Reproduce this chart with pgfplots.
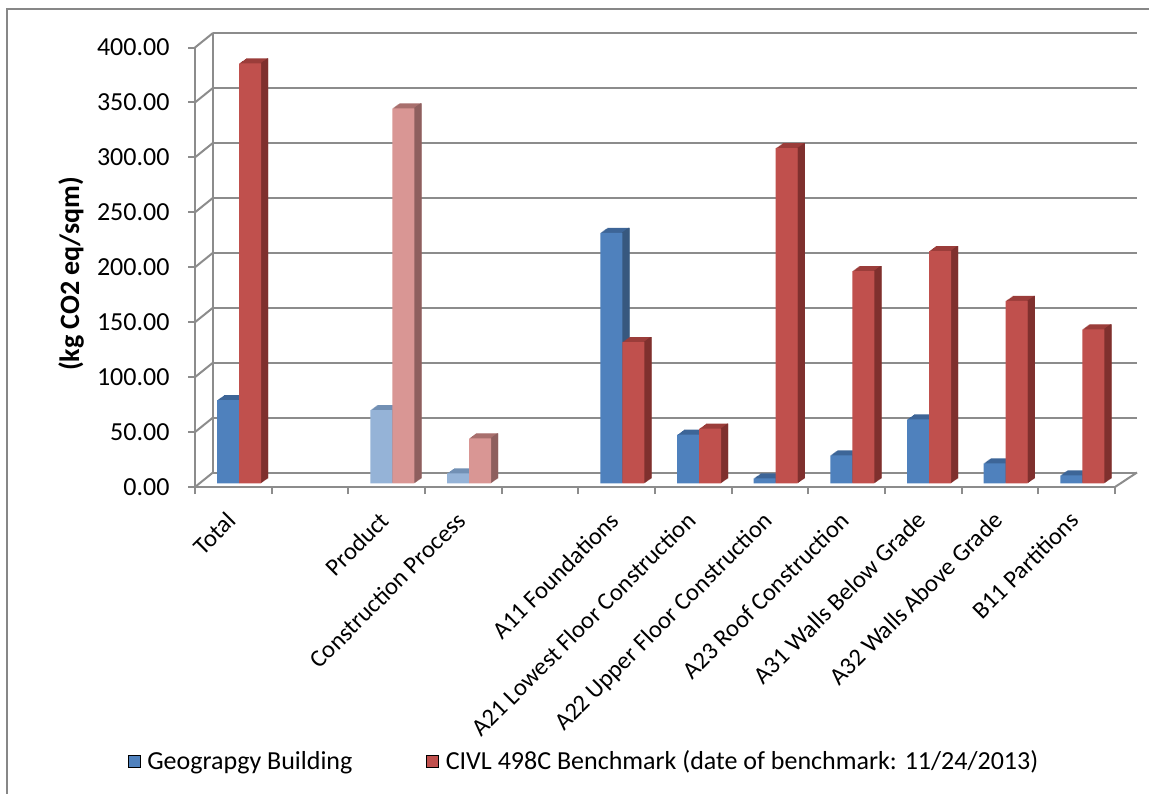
\documentclass[border=0pt]{standalone}
\usepackage{fontspec}
\setmainfont{Carlito}
\usepackage{pgfplots}
\usepackage{pgfplotstable}
\pgfplotsset{compat=1.18}

\definecolor{gridgray}{HTML}{8C8C8C}
\definecolor{framegray}{HTML}{878787}
\definecolor{blueF}{HTML}{4F81BD}
\definecolor{blueT}{HTML}{3D6597}
\definecolor{blueS}{HTML}{37587F}
\definecolor{lblueF}{HTML}{95B3D7}
\definecolor{lblueT}{HTML}{7290B4}
\definecolor{lblueS}{HTML}{6B809A}
\definecolor{redF}{HTML}{C0504D}
\definecolor{redT}{HTML}{9B3D3A}
\definecolor{redS}{HTML}{7F302E}
\definecolor{lredF}{HTML}{D99694}
\definecolor{lredT}{HTML}{A86F6D}
\definecolor{lredS}{HTML}{8E5F5E}

% Geography Building (dark) and its lighter life-cycle-stage bars
\pgfplotstableread{
x y
0 75.7
5 228.0
6 44.2
7 4.5
8 25.5
9 58.2
10 18.2
11 7.3
}\geo
\pgfplotstableread{
x y
2 66.7
3 9.1
}\geolight
% CIVL 498C benchmark
\pgfplotstableread{
x y
0 382.2
5 128.6
6 49.7
7 305.0
8 193.2
9 211.4
10 166.0
11 140.2
}\civl
\pgfplotstableread{
x y
2 341.3
3 41.0
}\civllight

% a column with depth: top face, side face, front face
% #1 table, #2 bar shift (pt), #3 front, #4 top, #5 side
\newcommand\prism[5]{%
  \pgfplotsinvokeforeach{1,...,7}{%
    \addplot[ybar, bar width=22pt, bar shift={(#2+##1)*1pt}, yshift={##1*0.714pt},
      fill=#4, draw=none, forget plot] table[x=x,y=y] {#1};
  }%
  \pgfplotsinvokeforeach{1,...,7}{%
    \addplot[ybar, bar width=1.3pt, bar shift={(#2+11+##1-0.5)*1pt}, yshift={##1*0.714pt},
      fill=#5, draw=none, forget plot] table[x=x,y=y] {#1};
  }%
  \addplot[ybar, bar width=22pt, bar shift={#2*1pt}, fill=#3, draw=none, forget plot]
    table[x=x,y=y] {#1};
}

\pgfplotsset{every axis/.append style={font=\fontsize{26}{31}\selectfont}}

\begin{document}
\begin{tikzpicture}[x=1pt,y=1pt,font=\fontsize{26}{31}\selectfont]
\useasboundingbox (0,0) rectangle (1149,-794);
\draw[framegray, line width=1.8pt] (1149,-9) -- (7,-9) -- (7,-794);

% back wall with gridlines
\begin{axis}[at={(213pt,-472.5pt)}, anchor=south west, scale only axis,
  width=924pt, height=439.5pt,
  xmin=0, xmax=1, ymin=0, ymax=400,
  xtick=\empty, ytick={0,50,...,400}, yticklabels={}, major tick length=0pt,
  axis x line=none, axis y line*=left,
  axis line style={draw=gridgray, line width=2pt, -},
  ymajorgrids, grid style={draw=gridgray, line width=2pt}]
\addplot[draw=none] coordinates {(0,0)};
\end{axis}

% side wall / floor edges
\foreach \v in {0,50,...,400}
  \draw[gridgray, line width=2pt] (195,{-487+\v*1.09875}) -- (213,{-472.5+\v*1.09875});
\draw[gridgray, line width=2pt] (1115,-487) -- (1137,-472.5);

% front axes with ticks and labels
\begin{axis}[at={(195pt,-487pt)}, anchor=south west, scale only axis,
  width=920pt, height=439.5pt,
  xmin=-0.5, xmax=11.5, ymin=0, ymax=400,
  axis x line*=bottom, axis y line*=left,
  axis line style={draw=gridgray, line width=2pt, -},
  tick align=outside, major tick length=7pt, minor tick length=7pt,
  ytick={0,50,...,400},
  yticklabel style={/pgf/number format/fixed, /pgf/number format/fixed zerofill,
    /pgf/number format/precision=2, /pgf/number format/assume math mode=true,
    xshift=-15pt},
  ytick style={draw=gridgray, line width=2pt},
  xtick={0,...,11},
  xticklabels={Total,,Product,Construction Process,,A11 Foundations,A21 Lowest Floor Construction,A22 Upper Floor Construction,A23 Roof Construction,A31 Walls Below Grade,A32 Walls Above Grade,B11 Partitions},
  xticklabel style={rotate=45, anchor=north east, inner sep=0pt,
    font=\fontsize{24.5}{29}\selectfont,
    text height=17pt, text depth=5.5pt, xshift=-17pt, yshift=-5.5pt},
  minor xtick={-0.5,0.5,...,11.5},
  major x tick style={draw=none},
  minor x tick style={draw=gridgray, line width=2pt}]
\addplot[draw=none] coordinates {(0,0)};
\end{axis}

% the columns
\begin{axis}[at={(200.7pt,-483.3pt)}, anchor=south west, scale only axis,
  width=920pt, height=439.5pt,
  xmin=-0.5, xmax=11.5, ymin=0, ymax=400, hide axis, clip=false,
  legend columns=2,
  legend style={at={(-0.0793,-0.632)}, anchor=west, draw=none, fill=none,
    inner sep=0pt,
    /tikz/every odd column/.append style={column sep=5pt},
    /tikz/every even column/.append style={column sep=72pt}},
  legend image code/.code={\fill[#1] (0pt,-6pt) rectangle (12pt,6pt);}]
\prism{\geo}{-11}{blueF}{blueT}{blueS}
\prism{\geolight}{-11}{lblueF}{lblueT}{lblueS}
\prism{\civl}{11}{redF}{redT}{redS}
\prism{\civllight}{11}{lredF}{lredT}{lredS}
\addlegendimage{fill=blueF}
\addlegendentry{Geograpgy Building}
\addlegendimage{fill=redF}
\addlegendentry{CIVL 498C Benchmark (date of benchmark: 11/24/2013)}
\end{axis}

\node[rotate=90, font=\bfseries\fontsize{28}{32}\selectfont] at (71,-274) {(kg CO2 eq/sqm)};
\end{tikzpicture}
\end{document}
